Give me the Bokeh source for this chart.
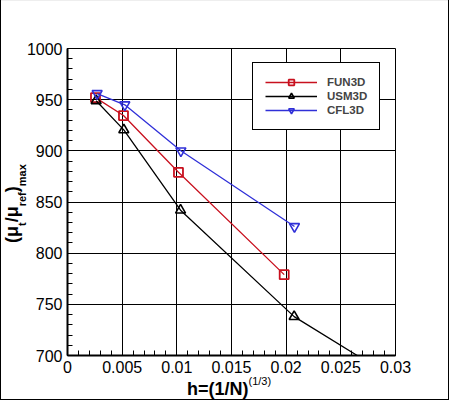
from bokeh.embed import file_html
from bokeh.layouts import column
from bokeh.models import CustomJSTickFormatter, Div, Range1d, SingleIntervalTicker
from bokeh.plotting import figure
from bokeh.resources import INLINE

# grid spacing h=(1/N)^(1/3) and (mu_t/mu_ref)_max
fun3d_h = [0.00256, 0.00512, 0.01015, 0.01982]
fun3d_mu = [952, 934.5, 879, 779]

usm3d_h = [0.00262, 0.00515, 0.01034, 0.02073]
usm3d_mu = [949, 920.5, 842, 738]
# USM3D curve keeps going past the coarsest grid, down to the axis
usm3d_line_h = usm3d_h + [0.0265]
usm3d_line_mu = usm3d_mu + [700]

cfl3d_h = [0.00271, 0.00524, 0.01037, 0.02076]
cfl3d_mu = [956, 945, 900, 826]

RED = "#c8101e"
BLACK = "#000000"
BLUE = "#3030d8"
FONT = "Liberation Sans"

p = figure(
    width=450,
    height=378,
    x_range=Range1d(0, 0.03),
    y_range=Range1d(700, 1000),
    output_backend="svg",
    toolbar_location=None,
    min_border_left=67,
    min_border_right=55,
    min_border_top=48,
    min_border_bottom=23,
)

# series
p.line(fun3d_h, fun3d_mu, color=RED, line_width=1.3, legend_label="FUN3D")
p.scatter(fun3d_h, fun3d_mu, marker="square", size=9, fill_color=None,
          line_color=RED, line_width=1.8, legend_label="FUN3D")

p.line(usm3d_line_h, usm3d_line_mu, color=BLACK, line_width=1.3, legend_label="USM3D")
p.scatter(usm3d_h, usm3d_mu, marker="triangle", size=10, fill_color=None,
          line_color=BLACK, line_width=1.6, legend_label="USM3D")

p.line(cfl3d_h, cfl3d_mu, color=BLUE, line_width=1.3, legend_label="CFL3D")
p.scatter(cfl3d_h, cfl3d_mu, marker="inverted_triangle", size=10, fill_color=None,
          line_color=BLUE, line_width=1.6, legend_label="CFL3D")

# axes
p.xaxis.ticker = SingleIntervalTicker(interval=0.005, num_minor_ticks=5)
p.yaxis.ticker = SingleIntervalTicker(interval=50, num_minor_ticks=5)
p.xaxis.formatter = CustomJSTickFormatter(code="return String(Number(tick.toFixed(4)))")
for ax in (p.xaxis, p.yaxis):
    ax.axis_line_width = 2
    ax.axis_line_color = "black"
    ax.major_tick_in = 8
    ax.major_tick_out = 0
    ax.minor_tick_in = 5
    ax.minor_tick_out = 0
    ax.major_tick_line_color = "black"
    ax.minor_tick_line_color = "black"
    ax.major_label_text_font = FONT
    ax.major_label_text_font_size = "16px"
    ax.major_label_text_color = "black"
p.xaxis.major_label_standoff = 5
p.yaxis.major_label_standoff = 5

p.grid.grid_line_color = "black"
p.grid.grid_line_alpha = 1
p.grid.grid_line_width = 1
p.outline_line_color = "black"
p.outline_line_alpha = 1
p.outline_line_width = 1

# legend
lg = p.legend[0]
lg.location = (185, 225)
lg.border_line_color = "black"
lg.border_line_alpha = 1
lg.border_line_width = 1
lg.background_fill_alpha = 1
lg.padding = 12
lg.spacing = 0
lg.margin = 0
lg.glyph_width = 52
lg.glyph_height = 14
lg.label_height = 14
lg.label_standoff = 10
lg.label_text_font = FONT
lg.label_text_font_style = "bold"
lg.label_text_font_size = "11.5px"

# axis titles as html text laid over the figure's borders, so that
# sub- and superscripts stay real text; the strip starts at y=378
sub = "font-size:11px; vertical-align:-8px;"
ytitle = (
    "<div style=\"position:absolute; left:2px; top:-135px; transform:rotate(-90deg); "
    "transform-origin:0 0; white-space:nowrap; font:bold 18px 'Liberation Sans'; "
    "line-height:20px; color:black;\">"
    f"(\u03bc<span style='{sub}'>t</span>/\u03bc<span style='{sub}'>ref</span>)"
    f"<span style='{sub}'>max</span></div>"
)
xtitle = (
    "<div style=\"position:absolute; left:187px; top:1px; white-space:nowrap; "
    "font:bold 18px 'Liberation Sans'; line-height:20px; color:black;\">"
    "h=(1/N)<span style='font-weight:normal; font-size:11px; line-height:0; "
    "vertical-align:10px;'>(1/3)</span></div>"
)


def rule(left, top, w, h, color="black"):
    # thin strip of the frame round the whole picture
    return (f"<div style='position:absolute; left:{left}px; top:{top}px; "
            f"width:{w}px; height:{h}px; background:{color};'></div>")


frame = (rule(0, -378, 449, 1, "#eeeeee") + rule(0, -378, 1, 400)
         + rule(448, -378, 1, 400) + rule(0, 21, 449, 1))

titles = Div(
    width=450,
    height=23,
    margin=0,
    styles={"overflow": "visible"},
    text=("<div style='position:relative; width:450px; height:23px;'>"
          + xtitle + ytitle + frame + "</div>"),
)

page = column(p, titles)

open("out.html", "w").write(file_html(page, INLINE))
